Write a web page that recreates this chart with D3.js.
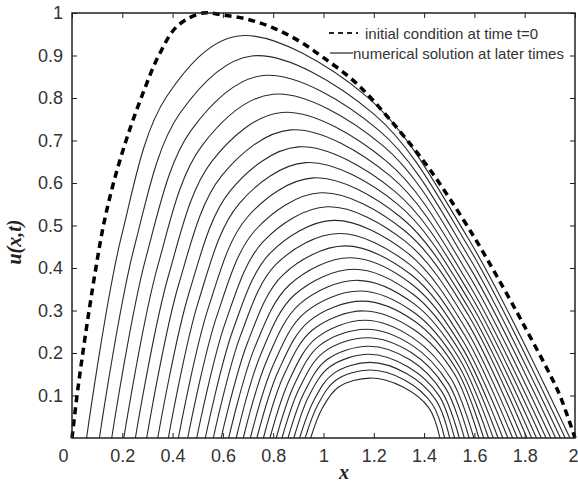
<!DOCTYPE html>
<html>
<head>
<meta charset="utf-8">
<script src="https://cdn.jsdelivr.net/npm/d3@7"></script>
<style>
  body { margin: 0; background: #fff; }
  .tick text { font-family: "Liberation Sans", Arial, sans-serif; font-size: 18px; fill: #333; }
  .legend-text { font-family: "Liberation Sans", Arial, sans-serif; font-size: 15px; fill: #333; }
  .axis-label { font-family: "Liberation Serif", "Times New Roman", serif; font-style: italic; font-weight: bold; fill: #222; }
</style>
</head>
<body>
<div id="chart"></div>
<script>
// Chart frame
const W = 578, H = 485;
const margin = {top: 13, right: 3, bottom: 47, left: 72};
const width = W - margin.left - margin.right;
const height = H - margin.top - margin.bottom;

// Tick values
const xTicks = [0, 0.2, 0.4, 0.6, 0.8, 1, 1.2, 1.4, 1.6, 1.8, 2];
const yTicks = [0.1, 0.2, 0.3, 0.4, 0.5, 0.6, 0.7, 0.8, 0.9, 1];

// Initial condition at t=0 (dashed)
const initialX = [0, 0.02, 0.043, 0.068, 0.095, 0.125, 0.165, 0.215, 0.275, 0.345, 0.42, 0.52, 0.6, 0.7, 0.8, 0.9, 1.0, 1.13, 1.26, 1.4, 1.5, 1.61, 1.69, 1.77, 1.82, 1.9, 1.94, 2.0];
const initialU = [0, 0.1, 0.2, 0.3, 0.4, 0.5, 0.6, 0.7, 0.8, 0.9, 0.97, 1.0, 0.995, 0.985, 0.965, 0.935, 0.895, 0.835, 0.752, 0.65, 0.565, 0.462, 0.38, 0.295, 0.24, 0.15, 0.1, 0];

// Numerical solution at later times, one [x, u] list per time level
const laterTimes = [
  [[0.058,0],[0.196,0.473],[0.377,0.804],[0.66,0.946],[1.171,0.804],[1.572,0.473],[1.980,0]],
  [[0.109,0],[0.248,0.450],[0.429,0.764],[0.715,0.899],[1.197,0.764],[1.576,0.450],[1.961,0]],
  [[0.158,0],[0.295,0.427],[0.475,0.725],[0.76,0.853],[1.218,0.725],[1.577,0.427],[1.942,0]],
  [[0.206,0],[0.341,0.405],[0.517,0.688],[0.80,0.809],[1.236,0.688],[1.578,0.405],[1.923,0]],
  [[0.252,0],[0.384,0.383],[0.556,0.651],[0.835,0.766],[1.251,0.651],[1.578,0.383],[1.904,0]],
  [[0.297,0],[0.425,0.363],[0.594,0.616],[0.87,0.725],[1.266,0.616],[1.577,0.363],[1.885,0]],
  [[0.341,0],[0.466,0.343],[0.630,0.582],[0.90,0.685],[1.280,0.582],[1.578,0.343],[1.866,0]],
  [[0.383,0],[0.504,0.324],[0.664,0.551],[0.93,0.648],[1.293,0.551],[1.578,0.324],[1.847,0]],
  [[0.423,0],[0.542,0.306],[0.698,0.520],[0.96,0.612],[1.306,0.520],[1.577,0.306],[1.828,0]],
  [[0.460,0],[0.577,0.289],[0.730,0.490],[0.99,0.577],[1.318,0.490],[1.576,0.289],[1.809,0]],
  [[0.496,0],[0.610,0.272],[0.760,0.462],[1.015,0.544],[1.327,0.462],[1.572,0.272],[1.790,0]],
  [[0.530,0],[0.641,0.256],[0.788,0.435],[1.04,0.512],[1.335,0.435],[1.567,0.256],[1.771,0]],
  [[0.562,0],[0.670,0.241],[0.812,0.409],[1.06,0.481],[1.341,0.409],[1.562,0.241],[1.752,0]],
  [[0.593,0],[0.699,0.226],[0.839,0.384],[1.085,0.452],[1.349,0.384],[1.557,0.226],[1.733,0]],
  [[0.623,0],[0.726,0.212],[0.864,0.360],[1.105,0.424],[1.355,0.360],[1.552,0.212],[1.713,0]],
  [[0.653,0],[0.752,0.199],[0.885,0.337],[1.12,0.397],[1.359,0.337],[1.547,0.199],[1.694,0]],
  [[0.681,0],[0.777,0.186],[0.905,0.315],[1.135,0.371],[1.362,0.315],[1.541,0.186],[1.675,0]],
  [[0.709,0],[0.801,0.173],[0.924,0.294],[1.145,0.346],[1.363,0.294],[1.535,0.173],[1.656,0]],
  [[0.735,0],[0.823,0.161],[0.941,0.274],[1.155,0.322],[1.364,0.274],[1.529,0.161],[1.637,0]],
  [[0.761,0],[0.844,0.150],[0.956,0.254],[1.16,0.299],[1.362,0.254],[1.521,0.150],[1.618,0]],
  [[0.787,0],[0.866,0.139],[0.971,0.235],[1.165,0.277],[1.357,0.235],[1.508,0.139],[1.598,0]],
  [[0.812,0],[0.886,0.128],[0.985,0.218],[1.17,0.256],[1.353,0.218],[1.497,0.128],[1.579,0]],
  [[0.835,0],[0.905,0.118],[0.999,0.201],[1.175,0.236],[1.349,0.201],[1.485,0.118],[1.560,0]],
  [[0.859,0],[0.924,0.108],[1.013,0.184],[1.18,0.216],[1.344,0.184],[1.472,0.108],[1.540,0]],
  [[0.882,0],[0.942,0.099],[1.024,0.167],[1.18,0.197],[1.337,0.167],[1.460,0.099],[1.521,0]],
  [[0.905,0],[0.962,0.089],[1.038,0.151],[1.185,0.178],[1.332,0.151],[1.447,0.089],[1.502,0]],
  [[0.927,0],[0.979,0.080],[1.049,0.136],[1.185,0.160],[1.324,0.136],[1.432,0.080],[1.482,0]],
  [[0.949,0],[0.996,0.071],[1.060,0.120],[1.185,0.141],[1.316,0.120],[1.419,0.071],[1.463,0]]
];

const legendLabels = ["initial condition at time t=0", "numerical solution at later times"];

const svg = d3.select("#chart")
    .append("svg")
    .attr("width", W)
    .attr("height", H);

const g = svg.append("g")
    .attr("transform", `translate(${margin.left},${margin.top})`);

// Scales
const x = d3.scaleLinear().domain([0, 2]).range([0, width]);
const y = d3.scaleLinear().domain([0, 1]).range([height, 0]);

const fmt = d3.format("~g");

// Axes (ticks point inward, MATLAB style box)
g.append("g")
    .attr("transform", `translate(0,${height})`)
    .call(d3.axisBottom(x).tickValues(xTicks).tickFormat(fmt).tickSizeInner(-5).tickSizeOuter(0).tickPadding(11))
    .call(a => a.select(".domain").remove())
    .call(a => a.selectAll(".tick text")
        .filter(d => d === 0).attr("dx", -9))
    .call(a => a.selectAll(".tick text")
        .filter(d => d === 2).attr("text-anchor", "end").attr("dx", 3));

g.append("g")
    .call(d3.axisLeft(y).tickValues(yTicks).tickFormat(fmt).tickSizeInner(-5).tickSizeOuter(0).tickPadding(9))
    .call(a => a.select(".domain").remove());

g.append("g")
    .call(d3.axisTop(x).tickValues(xTicks).tickFormat("").tickSizeInner(-5).tickSizeOuter(0))
    .call(a => a.select(".domain").remove());

g.append("g")
    .attr("transform", `translate(${width},0)`)
    .call(d3.axisRight(y).tickValues(yTicks).tickFormat("").tickSizeInner(-5).tickSizeOuter(0))
    .call(a => a.select(".domain").remove());

g.selectAll(".tick line").attr("stroke", "#222").attr("stroke-width", 1);

// Solution curves
const line = d3.line()
    .x(d => x(d[0]))
    .y(d => y(d[1]))
    .curve(d3.curveCatmullRom.alpha(0.5));

g.selectAll(".later")
    .data(laterTimes)
    .enter()
    .append("path")
    .attr("class", "later")
    .attr("d", line)
    .attr("fill", "none")
    .attr("stroke", "#2a2a2a")
    .attr("stroke-width", 1.1);

// Initial condition
const initial = initialX.map((v, i) => [v, initialU[i]]);
g.append("path")
    .datum(initial)
    .attr("d", line)
    .attr("fill", "none")
    .attr("stroke", "#000")
    .attr("stroke-width", 3.5)
    .attr("stroke-dasharray", "7,5");

// Box
g.append("rect")
    .attr("width", width)
    .attr("height", height)
    .attr("fill", "none")
    .attr("stroke", "#222")
    .attr("stroke-width", 1.5);

// Legend
const legend = g.append("g").attr("transform", `translate(${329 - margin.left},${33 - margin.top})`);
legend.append("line")
    .attr("x1", 0).attr("x2", 29).attr("y1", 0).attr("y2", 0)
    .attr("stroke", "#222").attr("stroke-width", 1.8).attr("stroke-dasharray", "5,4");
legend.append("text")
    .attr("class", "legend-text")
    .attr("x", 36).attr("y", 5.5)
    .text(legendLabels[0]);
legend.append("line")
    .attr("x1", 1).attr("x2", 24).attr("y1", 20).attr("y2", 20)
    .attr("stroke", "#222").attr("stroke-width", 1.2);
legend.append("text")
    .attr("class", "legend-text")
    .attr("x", 24).attr("y", 25.5)
    .text(legendLabels[1]);

// Axis labels
svg.append("text")
    .attr("class", "axis-label")
    .attr("x", 344)
    .attr("y", 479)
    .attr("text-anchor", "middle")
    .style("font-size", "20px")
    .text("x");

svg.append("text")
    .attr("class", "axis-label")
    .attr("transform", "translate(21,242) rotate(-90)")
    .attr("text-anchor", "middle")
    .style("font-size", "20px")
    .text("u(x,t)");
</script>
</body>
</html>
